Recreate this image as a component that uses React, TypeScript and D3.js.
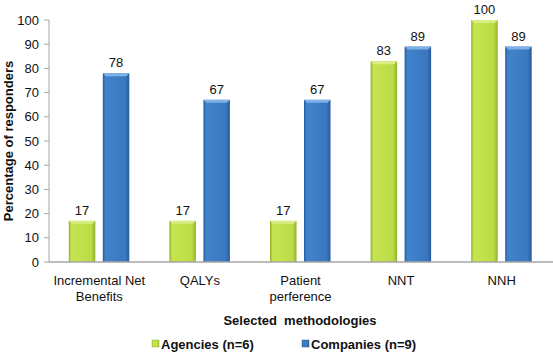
import * as d3 from "d3"

const categories = [
  ["Incremental Net", "Benefits"],
  ["QALYs"],
  ["Patient", "perference"],
  ["NNT"],
  ["NNH"],
]
const agencies = [17, 17, 17, 83, 100]
const companies = [78, 67, 67, 89, 89]
const yTicks = [0, 10, 20, 30, 40, 50, 60, 70, 80, 90, 100]

const width = 553
const height = 352
const margin = { left: 49, right: 1, top: 20, bottom: 90 }
const font = "'Liberation Sans', Arial, sans-serif"

const series = [
  { name: "Agencies (n=6)", values: agencies, id: "g", light: "#c6e451", mid: "#bcdc46", dark: "#8eb12c", top: "#d9ef86" },
  { name: "Companies (n=9)", values: companies, id: "b", light: "#4183cb", mid: "#3a78c0", dark: "#285a9b", top: "#7fb0e6" },
]

const App = () => {
  const x = d3
    .scaleBand()
    .domain(categories.map((_, i) => String(i)))
    .range([margin.left, width - margin.right])
  const y = d3
    .scaleLinear()
    .domain([0, 100])
    .range([height - margin.bottom, margin.top])

  const barW = 26.5
  const offsets = [-30.5, 3.5]

  return (
    <svg width={width} height={height} style={{ position: "absolute", left: 0, top: 0, background: "#fff" }}>
      <defs>
        {series.map((s) => (
          <linearGradient key={s.id} id={"grad-" + s.id} x1="0" x2="1" y1="0" y2="0">
            <stop offset="0" stopColor={s.dark} />
            <stop offset="0.1" stopColor={s.light} />
            <stop offset="0.85" stopColor={s.mid} />
            <stop offset="1" stopColor={s.dark} />
          </linearGradient>
        ))}
      </defs>

      {/* y axis */}
      <line x1={margin.left} x2={margin.left} y1={y(100)} y2={y(0)} stroke="#a6a6a6" />
      {yTicks.map((t) => (
        <g key={t}>
          <line x1={margin.left - 5} x2={margin.left} y1={y(t)} y2={y(t)} stroke="#a6a6a6" />
          <text x={margin.left - 10} y={y(t)} dy="0.35em" textAnchor="end" fontFamily={font} fontSize={13} fill="#111">
            {t}
          </text>
        </g>
      ))}
      <text
        transform={`translate(13, ${(y(0) + y(100)) / 2}) rotate(-90)`}
        textAnchor="middle"
        fontFamily={font}
        fontSize={13}
        fontWeight="bold"
        fill="#111"
      >
        Percentage of responders
      </text>

      {/* bars */}
      {categories.map((c, i) => {
        const cx = x(String(i))! + x.bandwidth() / 2
        return (
          <g key={i}>
            {series.map((s, j) => {
              const v = s.values[i]
              const bx = cx + offsets[j]
              const by = y(v)
              const bh = y(0) - by
              return (
                <g key={s.id}>
                  <rect x={bx} y={by} width={barW} height={bh} fill={`url(#grad-${s.id})`} />
                  <path
                    d={`M${bx},${by} L${bx + barW},${by} L${bx + barW - 3},${by + 3} L${bx + 3},${by + 3} Z`}
                    fill={s.top}
                  />
                  <text
                    x={bx + barW / 2}
                    y={by - 6}
                    textAnchor="middle"
                    fontFamily={font}
                    fontSize={13}
                    fill="#111"
                  >
                    {v}
                  </text>
                </g>
              )
            })}
            {c.map((line, k) => (
              <text
                key={k}
                x={cx}
                y={y(0) + 23 + k * 16}
                textAnchor="middle"
                fontFamily={font}
                fontSize={13}
                fill="#111"
              >
                {line}
              </text>
            ))}
          </g>
        )
      })}

      {/* x axis */}
      <line x1={margin.left} x2={width} y1={y(0)} y2={y(0)} stroke="#a6a6a6" strokeWidth={1.5} />
      <text x={300} y={325} textAnchor="middle" fontFamily={font} fontSize={13} fontWeight="bold" fill="#111" xmlSpace="preserve">
        Selected  methodologies
      </text>

      {/* legend */}
      {series.map((s, j) => {
        const lx = [152, 302][j]
        return (
          <g key={s.id}>
            <rect x={lx} y={340} width={7} height={7} fill={`url(#grad-${s.id})`} stroke={s.dark} strokeWidth={0.5} />
            <text x={lx + 9} y={348.5} fontFamily={font} fontSize={13} fontWeight="bold" fill="#111">
              {s.name}
            </text>
          </g>
        )
      })}
    </svg>
  )
}

export default App
